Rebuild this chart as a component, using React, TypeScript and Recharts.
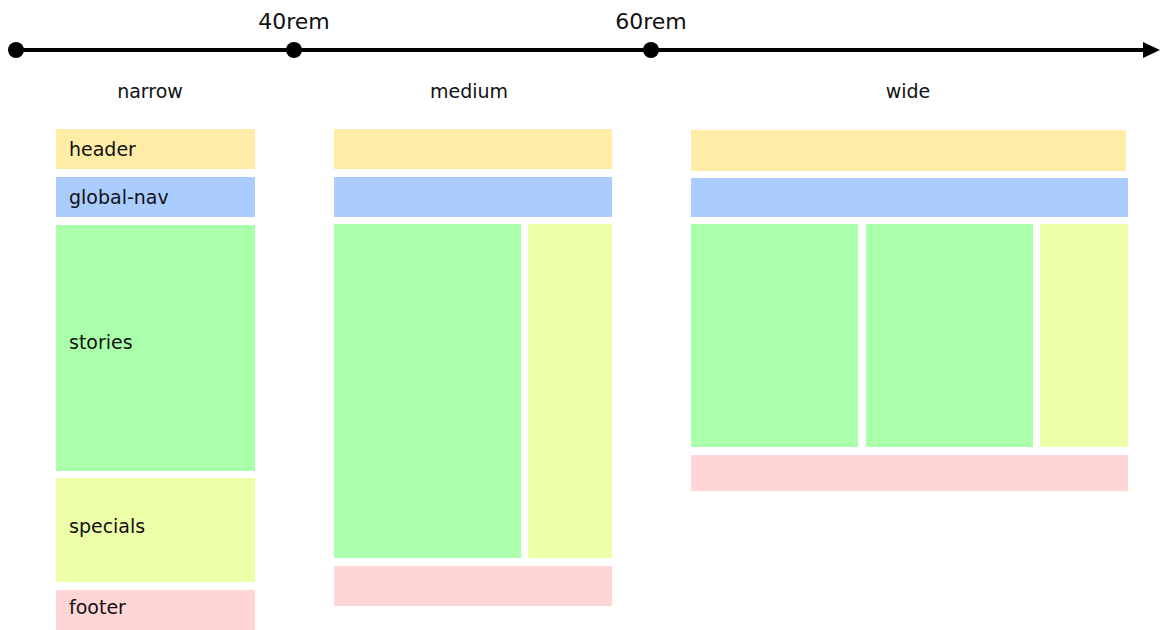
import React from "react";
import {
  ComposedChart, XAxis, YAxis, ReferenceArea, ReferenceLine, Scatter, LabelList,
} from "recharts";

// timeline breakpoints (diagram units, x along the top line)
const breakpointX = [16, 294, 651];
const breakpointLabels = ["", "40rem", "60rem"];
const timelineY = 50;
const arrowTip = [{ x: 1160, y: 50 }];

// layout names shown under the timeline
const layouts = ["narrow", "medium", "wide"];
const layoutCenters = [150, 469, 908];
const layoutLabelY = 91;

// region colours
const regionColors: Record<string, string> = {
  header: "#feeca7",
  "global-nav": "#aaccff",
  stories: "#aaffaa",
  specials: "#ecfea7",
  footer: "#ffd5d5",
};

// boxes per layout: region, x1, x2, y1, y2, shown label
const narrowBoxes = [
  { region: "header", x1: 56, x2: 255, y1: 129, y2: 169, label: "header" },
  { region: "global-nav", x1: 56, x2: 255, y1: 177, y2: 217, label: "global-nav" },
  { region: "stories", x1: 56, x2: 255, y1: 225, y2: 471, label: "stories" },
  { region: "specials", x1: 56, x2: 255, y1: 478, y2: 582, label: "specials" },
  { region: "footer", x1: 56, x2: 255, y1: 590, y2: 630, label: "footer" },
];

const mediumBoxes = [
  { region: "header", x1: 334, x2: 612, y1: 129, y2: 169, label: "" },
  { region: "global-nav", x1: 334, x2: 612, y1: 177, y2: 217, label: "" },
  { region: "stories", x1: 334, x2: 521, y1: 224, y2: 558, label: "" },
  { region: "specials", x1: 528, x2: 612, y1: 224, y2: 558, label: "" },
  { region: "footer", x1: 334, x2: 612, y1: 566, y2: 606, label: "" },
];

const wideBoxes = [
  { region: "header", x1: 691, x2: 1126, y1: 130, y2: 171, label: "" },
  { region: "global-nav", x1: 691, x2: 1128, y1: 178, y2: 217, label: "" },
  { region: "stories", x1: 691, x2: 858, y1: 224, y2: 447, label: "" },
  { region: "stories", x1: 866, x2: 1033, y1: 224, y2: 447, label: "" },
  { region: "specials", x1: 1040, x2: 1128, y1: 224, y2: 447, label: "" },
  { region: "footer", x1: 691, x2: 1128, y1: 455, y2: 491, label: "" },
];

// small nudges of the region labels (px, up is negative)
const labelShift: Record<string, number> = { stories: -6, specials: -4, footer: -3 };

const W = 1160;
const H = 630;

const boxLabel = (text: string, region: string) => (props: any) => {
  const vb = props.viewBox;
  if (!vb) return null;
  return (
    <text
      x={vb.x + 13}
      y={vb.y + vb.height / 2 + 7 + (labelShift[region] || 0)}
      fill="#111"
      fontSize={19}
    >
      {text}
    </text>
  );
};

export default function App() {
  const dots = breakpointX.map((x, i) => ({ x, y: timelineY, name: breakpointLabels[i] }));
  const titles = layouts.map((name, i) => ({ x: layoutCenters[i], y: layoutLabelY, name }));
  const boxes = [...narrowBoxes, ...mediumBoxes, ...wideBoxes];

  return (
    <div style={{ position: "absolute", left: 0, top: 0, width: W, height: H, background: "white", fontFamily: "'DejaVu Sans', Verdana, sans-serif" }}>
      <ComposedChart width={W} height={H} margin={{ top: 0, right: 0, bottom: 0, left: 0 }}>
        <XAxis type="number" dataKey="x" domain={[0, W]} allowDataOverflow hide />
        <YAxis type="number" dataKey="y" domain={[0, H]} allowDataOverflow reversed hide />

        {boxes.map((b, i) => (
          <ReferenceArea
            key={`box-${i}`}
            x1={b.x1}
            x2={b.x2}
            y1={b.y1}
            y2={b.y2}
            fill={regionColors[b.region]}
            fillOpacity={1}
            stroke="none"
            ifOverflow="visible"
            label={b.label ? boxLabel(b.label, b.region) : undefined}
          />
        ))}

        <ReferenceLine
          segment={[{ x: breakpointX[0], y: timelineY }, { x: arrowTip[0].x - 14, y: timelineY }]}
          stroke="#000"
          strokeWidth={4}
          ifOverflow="visible"
        />

        <Scatter
          data={arrowTip}
          isAnimationActive={false}
          shape={(p: any) => (
            <polygon
              points={`${p.cx},${p.cy} ${p.cx - 17},${p.cy - 8} ${p.cx - 17},${p.cy + 8}`}
              fill="#000"
            />
          )}
        />

        <Scatter
          data={dots}
          isAnimationActive={false}
          shape={(p: any) => <circle cx={p.cx} cy={p.cy} r={8} fill="#000" />}
        >
          <LabelList dataKey="name" position="top" offset={16} fill="#111" fontSize={22} />
        </Scatter>

        <Scatter
          data={titles}
          isAnimationActive={false}
          shape={() => <g />}
        >
          <LabelList dataKey="name" position="center" fill="#111" fontSize={19} />
        </Scatter>
      </ComposedChart>
    </div>
  );
}
